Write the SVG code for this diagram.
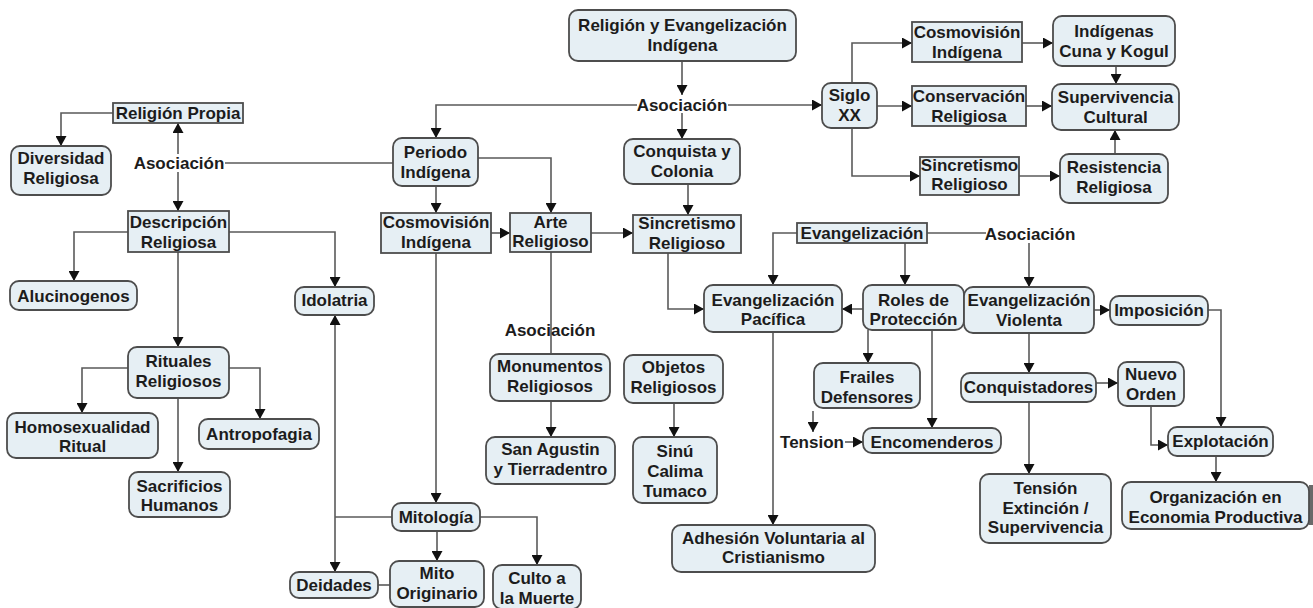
<svg xmlns="http://www.w3.org/2000/svg" width="1313" height="608" viewBox="0 0 1313 608">
  <defs>
    <marker id="arrow" viewBox="0 0 10 11" markerWidth="10" markerHeight="11" refX="10" refY="5.5" orient="auto-start-reverse" markerUnits="userSpaceOnUse">
      <path d="M0,0 L10,5.5 L0,11 z" fill="#111"/>
    </marker>
    <style>
      .node rect { fill: #e6eff4; stroke: #4d4d4d; stroke-width: 1.8; }
      .node text, .label { font-family: "Liberation Sans", Arial, sans-serif; font-weight: bold; font-size: 17px; fill: #1c1c1c; text-anchor: middle; }
      .conn path { fill: none; stroke: #5a5a5a; stroke-width: 1.6; }
      .conn path.arr { marker-end: url(#arrow); }
      .conn path.both { marker-start: url(#arrow); marker-end: url(#arrow); }
    </style>
  </defs>
  <rect width="1313" height="608" fill="#ffffff"/>

  <!-- connectors -->
  <g id="connectors" class="conn">
    <path class="arr" d="M682,61 V95"/>
    <path class="arr" d="M637,105 H436 V138"/>
    <path class="arr" d="M682,113 V139"/>
    <path class="arr" d="M728,105 H822"/>
    <path class="arr" d="M852,83 V43 H912"/>
    <path class="arr" d="M877,106 H912"/>
    <path class="arr" d="M852,128 V176 H920"/>
    <path class="arr" d="M1022,43 H1053"/>
    <path class="arr" d="M1026,106 H1052"/>
    <path class="arr" d="M1019,176 H1060"/>
    <path class="arr" d="M1116,66 V84"/>
    <path class="arr" d="M1115,154 V130"/>
    <path class="arr" d="M436,186 V213"/>
    <path class="arr" d="M478,158 H551 V213"/>
    <path class="arr" d="M491,233 H510"/>
    <path class="arr" d="M591,233 H633"/>
    <path class="arr" d="M688,184 V215"/>
    <path class="arr" d="M668,253 V309 H704"/>
    <path d="M225,163 H393"/>
    <path class="arr" d="M178,154 V123"/>
    <path class="arr" d="M178,172 V211"/>
    <path class="arr" d="M113,113 H61 V146"/>
    <path class="arr" d="M128,232 H74 V281"/>
    <path class="arr" d="M229,232 H335 V287"/>
    <path class="arr" d="M178,252 V347"/>
    <path class="arr" d="M128,368 H82 V413"/>
    <path class="arr" d="M229,368 H260 V419"/>
    <path class="arr" d="M178,398 V472"/>
    <path d="M392,517 H335"/>
    <path class="arr" d="M335,517 V315"/>
    <path class="arr" d="M335,517 V572"/>
    <path class="arr" d="M436,253 V503"/>
    <path class="arr" d="M437,531 V561"/>
    <path class="arr" d="M480,517 H537 V565"/>
    <path d="M378,585 H390"/>
    <path d="M551,252 V354"/>
    <path class="arr" d="M551,401 V437"/>
    <path class="arr" d="M674,403 V437"/>
    <path class="arr" d="M797,233 H773 V285"/>
    <path class="arr" d="M905,243 V285"/>
    <path d="M927,233 H986"/>
    <path class="arr" d="M1029,243 V287"/>
    <path class="arr" d="M863,309 H842"/>
    <path class="arr" d="M868,330 V363"/>
    <path class="arr" d="M932,330 V428"/>
    <path class="arr" d="M813,411 V432"/>
    <path class="arr" d="M845,442 H863"/>
    <path class="arr" d="M773,332 V525"/>
    <path class="arr" d="M1094,310 H1110"/>
    <path class="arr" d="M1208,310 H1221 V427"/>
    <path class="arr" d="M1029,333 V373"/>
    <path class="arr" d="M1096,383 H1118"/>
    <path class="arr" d="M1151,406 V445 H1168"/>
    <path class="arr" d="M1029,402 V474"/>
    <path class="arr" d="M1216,456 V482"/>
  </g>

  <!-- linking phrases -->
  <g id="labels">
    <text class="label" x="682" y="111">Asociación</text>
    <text class="label" x="179" y="169">Asociación</text>
    <text class="label" x="550" y="336">Asociación</text>
    <text class="label" x="1030" y="240">Asociación</text>
    <text class="label" x="812" y="448">Tension</text>
  </g>

  <!-- concept nodes -->
  <g id="n-root" class="node"><rect x="569" y="10" width="227" height="51" rx="9"/><text x="682.5" y="31">Religión y Evangelización</text><text x="682.5" y="51">Indígena</text></g>
  <g id="n-periodo" class="node"><rect x="393" y="138" width="85" height="48" rx="9"/><text x="435.5" y="158">Periodo</text><text x="435.5" y="178">Indígena</text></g>
  <g id="n-conquista" class="node"><rect x="624" y="139" width="116" height="45" rx="9"/><text x="682" y="157">Conquista y</text><text x="682" y="177">Colonia</text></g>
  <g id="n-siglo" class="node"><rect x="822" y="83" width="55" height="45" rx="9"/><text x="849.5" y="101">Siglo</text><text x="849.5" y="121">XX</text></g>
  <g id="n-cosmo-r" class="node"><rect x="912" y="22" width="110" height="40"/><text x="967" y="38">Cosmovisión</text><text x="967" y="58">Indígena</text></g>
  <g id="n-indigenas" class="node"><rect x="1053" y="16" width="122" height="50" rx="9"/><text x="1114" y="37">Indígenas</text><text x="1114" y="57">Cuna y Kogul</text></g>
  <g id="n-conservacion" class="node"><rect x="912" y="86" width="114" height="40"/><text x="969" y="102">Conservación</text><text x="969" y="122">Religiosa</text></g>
  <g id="n-supervivencia" class="node"><rect x="1052" y="84" width="127" height="46" rx="9"/><text x="1115.5" y="103">Supervivencia</text><text x="1115.5" y="123">Cultural</text></g>
  <g id="n-sincretismo-r" class="node"><rect x="920" y="157" width="99" height="38"/><text x="969.5" y="171">Sincretismo</text><text x="969.5" y="190">Religioso</text></g>
  <g id="n-resistencia" class="node"><rect x="1060" y="154" width="108" height="49" rx="9"/><text x="1114" y="173">Resistencia</text><text x="1114" y="193">Religiosa</text></g>

  <g id="n-religion-propia" class="node"><rect x="113" y="103" width="130" height="20"/><text x="178" y="119">Religión Propia</text></g>
  <g id="n-diversidad" class="node"><rect x="11" y="146" width="100" height="49" rx="9"/><text x="61" y="164">Diversidad</text><text x="61" y="184">Religiosa</text></g>
  <g id="n-descripcion" class="node"><rect x="128" y="211" width="101" height="41"/><text x="178.5" y="228">Descripción</text><text x="178.5" y="248">Religiosa</text></g>
  <g id="n-alucinogenos" class="node"><rect x="10" y="281" width="127" height="29" rx="9"/><text x="73.5" y="302">Alucinogenos</text></g>
  <g id="n-idolatria" class="node"><rect x="295" y="287" width="79" height="28" rx="9"/><text x="334.5" y="306">Idolatria</text></g>
  <g id="n-rituales" class="node"><rect x="128" y="347" width="101" height="51" rx="9"/><text x="178.5" y="367">Rituales</text><text x="178.5" y="387">Religiosos</text></g>
  <g id="n-homosexualidad" class="node"><rect x="7" y="413" width="151" height="45" rx="9"/><text x="82.5" y="433">Homosexualidad</text><text x="82.5" y="452">Ritual</text></g>
  <g id="n-antropofagia" class="node"><rect x="199" y="419" width="120" height="30" rx="9"/><text x="259" y="440">Antropofagia</text></g>
  <g id="n-sacrificios" class="node"><rect x="129" y="472" width="101" height="45" rx="9"/><text x="179.5" y="492">Sacrificios</text><text x="179.5" y="511">Humanos</text></g>

  <g id="n-cosmo-l" class="node"><rect x="381" y="213" width="110" height="40"/><text x="436" y="228">Cosmovisión</text><text x="436" y="248">Indígena</text></g>
  <g id="n-arte" class="node"><rect x="510" y="213" width="81" height="39"/><text x="550.5" y="228">Arte</text><text x="550.5" y="247">Religioso</text></g>
  <g id="n-sincretismo-c" class="node"><rect x="633" y="215" width="108" height="38"/><text x="687" y="229">Sincretismo</text><text x="687" y="249">Religioso</text></g>
  <g id="n-mitologia" class="node"><rect x="392" y="503" width="88" height="28" rx="9"/><text x="436" y="523">Mitología</text></g>
  <g id="n-deidades" class="node"><rect x="290" y="572" width="88" height="26" rx="9"/><text x="334" y="591">Deidades</text></g>
  <g id="n-mito" class="node"><rect x="390" y="561" width="94" height="46" rx="9"/><text x="437" y="579">Mito</text><text x="437" y="599">Originario</text></g>
  <g id="n-culto" class="node"><rect x="493" y="565" width="88" height="44" rx="9"/><text x="537" y="584">Culto a</text><text x="537" y="604">la Muerte</text></g>
  <g id="n-monumentos" class="node"><rect x="490" y="354" width="120" height="47" rx="9"/><text x="550" y="372">Monumentos</text><text x="550" y="392">Religiosos</text></g>
  <g id="n-san-agustin" class="node"><rect x="486" y="437" width="129" height="47" rx="9"/><text x="550.5" y="455">San Agustin</text><text x="550.5" y="475">y Tierradentro</text></g>
  <g id="n-objetos" class="node"><rect x="624" y="355" width="99" height="48" rx="9"/><text x="673.5" y="373">Objetos</text><text x="673.5" y="393">Religiosos</text></g>
  <g id="n-sinu" class="node"><rect x="633" y="437" width="84" height="66" rx="9"/><text x="675" y="457">Sinú</text><text x="675" y="477">Calima</text><text x="675" y="497">Tumaco</text></g>

  <g id="n-evangelizacion" class="node"><rect x="797" y="223" width="130" height="20"/><text x="862" y="239">Evangelización</text></g>
  <g id="n-pacifica" class="node"><rect x="704" y="285" width="138" height="47" rx="9"/><text x="773" y="306">Evangelización</text><text x="773" y="325">Pacífica</text></g>
  <g id="n-roles" class="node"><rect x="863" y="285" width="101" height="45" rx="9"/><text x="913.5" y="306">Roles de</text><text x="913.5" y="325">Protección</text></g>
  <g id="n-frailes" class="node"><rect x="814" y="363" width="106" height="45" rx="9"/><text x="867" y="383">Frailes</text><text x="867" y="403">Defensores</text></g>
  <g id="n-encomenderos" class="node"><rect x="863" y="428" width="138" height="25" rx="9"/><text x="932" y="448">Encomenderos</text></g>
  <g id="n-adhesion" class="node"><rect x="672" y="525" width="203" height="47" rx="9"/><text x="773.5" y="544">Adhesión Voluntaria al</text><text x="773.5" y="563">Cristianismo</text></g>
  <g id="n-violenta" class="node"><rect x="964" y="287" width="130" height="46" rx="9"/><text x="1029" y="306">Evangelización</text><text x="1029" y="326">Violenta</text></g>
  <g id="n-imposicion" class="node"><rect x="1110" y="296" width="98" height="29" rx="9"/><text x="1159" y="316">Imposición</text></g>
  <g id="n-conquistadores" class="node"><rect x="961" y="373" width="135" height="29" rx="9"/><text x="1028.5" y="393">Conquistadores</text></g>
  <g id="n-nuevo-orden" class="node"><rect x="1118" y="362" width="66" height="44" rx="9"/><text x="1151" y="380">Nuevo</text><text x="1151" y="400">Orden</text></g>
  <g id="n-explotacion" class="node"><rect x="1168" y="427" width="105" height="29" rx="9"/><text x="1220.5" y="447">Explotación</text></g>
  <g id="n-tension" class="node"><rect x="980" y="474" width="131" height="69" rx="9"/><text x="1045.5" y="494">Tensión</text><text x="1045.5" y="514">Extinción /</text><text x="1045.5" y="533">Supervivencia</text></g>
  <g id="n-organizacion" class="node"><rect x="1309" y="485" width="4" height="40" style="fill:#6a6a6a;stroke:none"/><rect x="1122" y="482" width="187" height="47" rx="9"/><text x="1215.5" y="503">Organización en</text><text x="1215.5" y="523">Economia Productiva</text></g>
</svg>
